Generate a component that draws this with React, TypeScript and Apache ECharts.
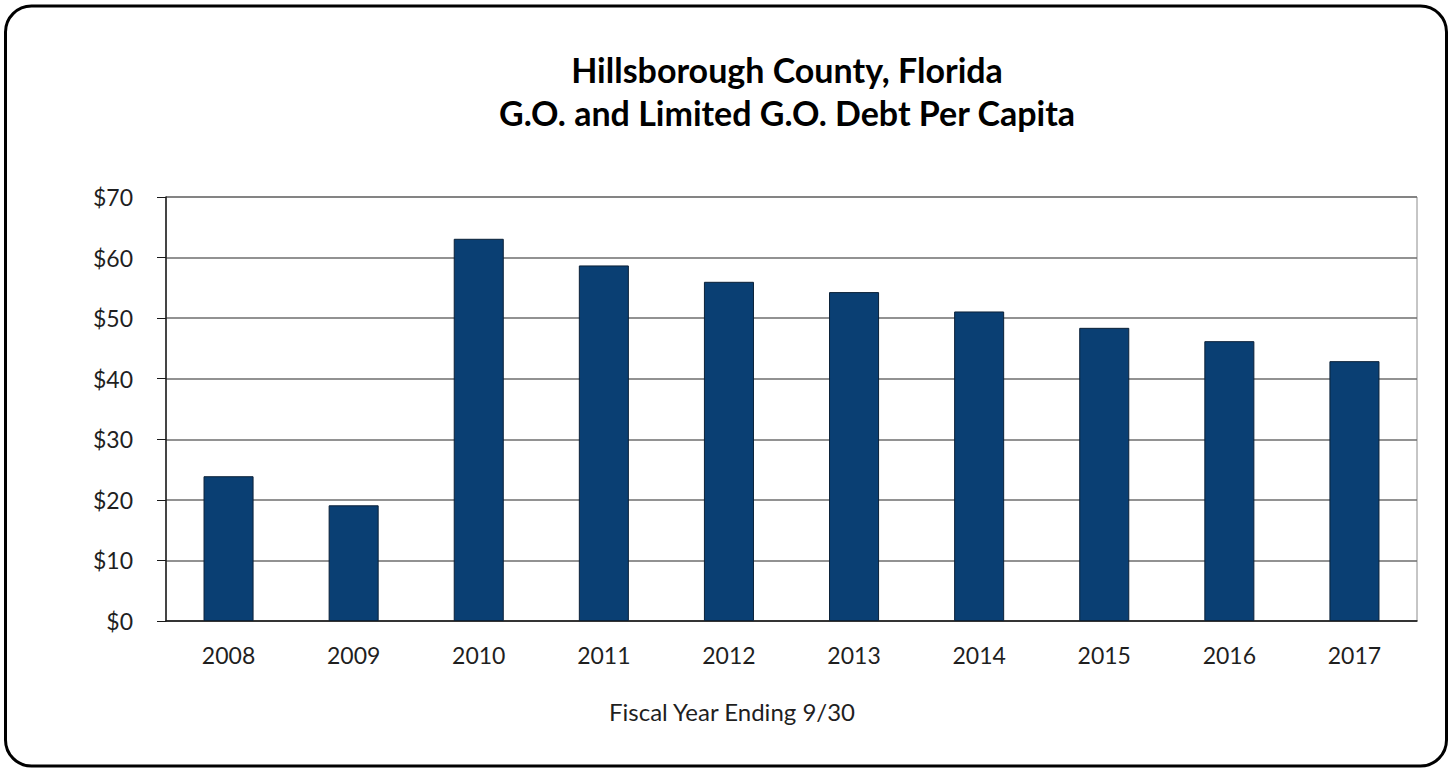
import React, { useEffect, useRef } from "react";
import * as echarts from "echarts";

const years = ["2008", "2009", "2010", "2011", "2012", "2013", "2014", "2015", "2016", "2017"];
const debtPerCapita = [23.9, 19.1, 63.1, 58.7, 56.0, 54.3, 51.1, 48.4, 46.2, 42.9];
const titleLines = ["Hillsborough County, Florida", "G.O. and Limited G.O. Debt Per Capita"];
const xAxisTitle = "Fiscal Year Ending 9/30";

export default function App() {
  const ref = useRef<HTMLDivElement>(null);
  useEffect(() => {
    if (!ref.current) return;
    const chart = echarts.init(ref.current, null, { renderer: "svg" });
    chart.setOption({
      animation: false,
      backgroundColor: "#ffffff",
      textStyle: { fontFamily: "Lato" },
      title: {
        text: titleLines.join("\n"),
        left: 782,
        textAlign: "center",
        top: 43,
        textStyle: { fontFamily: "Lato", fontWeight: "bold", fontSize: 34, lineHeight: 43, color: "#000" },
      },
      grid: {
        left: 166,
        right: 38,
        top: 197,
        bottom: 150,
        show: true,
        borderColor: "#8c8c8c",
        borderWidth: 1,
      },
      xAxis: {
        type: "category",
        data: years,
        axisLine: { show: true, lineStyle: { color: "#1a1a1a", width: 1.5 } },
        axisTick: { show: false },
        axisLabel: { margin: 22, fontSize: 23, color: "#1f1f1f", fontFamily: "Lato" },
      },
      yAxis: {
        type: "value",
        min: 0,
        max: 70,
        interval: 10,
        axisLine: { show: true, lineStyle: { color: "#1a1a1a", width: 1.5 } },
        axisTick: { show: true, inside: false, length: 9, lineStyle: { color: "#1a1a1a" } },
        axisLabel: {
          margin: 33,
          fontSize: 23,
          color: "#1f1f1f",
          fontFamily: "Lato",
          formatter: (v: number) => "$" + v,
        },
        splitLine: { show: true, lineStyle: { color: "#6e6e6e", width: 1.5 } },
      },
      series: [
        {
          type: "bar",
          data: debtPerCapita,
          barWidth: "40%",
          itemStyle: { color: "#0a3f73", borderColor: "#0b2138", borderWidth: 1 },
        },
      ],
      graphic: [
        {
          type: "text",
          x: 732,
          y: 711,
          style: {
            text: xAxisTitle,
            fontFamily: "Lato",
            fontSize: 24,
            fill: "#1f1f1f",
            align: "center",
            verticalAlign: "middle",
          },
        },
        {
          type: "rect",
          shape: { x: 5.5, y: 6, width: 1441, height: 760, r: 26 },
          style: { fill: "none", stroke: "#000", lineWidth: 3 },
          z: 100,
        },
      ],
    });
    return () => chart.dispose();
  }, []);
  return <div ref={ref} style={{ position: "fixed", left: 0, top: 0, width: 1455, height: 771 }} />;
}
